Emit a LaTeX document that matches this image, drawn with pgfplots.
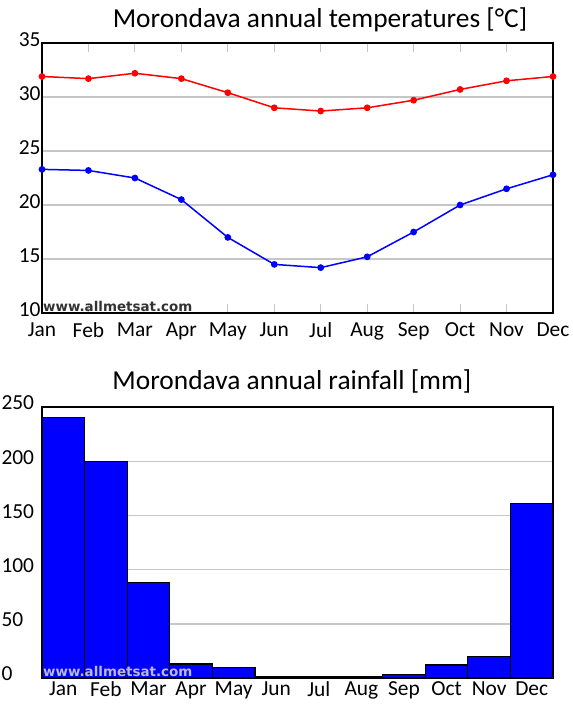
\documentclass[border=0pt]{standalone}
\usepackage{fontspec}
\setmainfont{Carlito}
\newfontfamily\wmfont{DejaVu Sans}
\usepackage{pgfplots}
\pgfplotsset{compat=1.18}

\pgfplotsset{chartbase/.style={
  scale only axis, width=511bp,
  axis line style={black, line width=1.6bp},
  ymajorgrids, grid style={gray!45, line width=1.4bp},
  tick label style={font=\fontsize{21.5}{21.5}\selectfont},
  /pgf/number format/assume math mode=true,
  xtick={1,...,12},
  xticklabels={Jan,Feb,Mar,Apr,May,Jun,Jul,Aug,Sep,Oct,Nov,Dec},
  ytick style={draw=none},
  clip=false}}

\begin{document}
\begin{tikzpicture}
\useasboundingbox (0bp,0bp) rectangle (573bp,-706bp);

% temperatures
\begin{axis}[chartbase, at={(42bp,-313bp)}, anchor=south west, height=270bp,
  xmin=1, xmax=12, ymin=10, ymax=35, ytick={10,15,...,35},
  tick align=inside, major tick length=9bp,
  xtick style={gray!45, line width=1bp},
  xticklabel style={yshift=-6bp},
  yticklabel style={yshift=3bp, xshift=2bp}]
\addplot[red, line width=1.5bp, mark=*, mark size=2.6bp] coordinates
  {(1,31.9) (2,31.7) (3,32.2) (4,31.7) (5,30.4) (6,29.0)
   (7,28.7) (8,29.0) (9,29.7) (10,30.7) (11,31.5) (12,31.9)};
\addplot[blue, line width=1.5bp, mark=*, mark size=2.6bp] coordinates
  {(1,23.3) (2,23.2) (3,22.5) (4,20.5) (5,17.0) (6,14.5)
   (7,14.2) (8,15.2) (9,17.5) (10,20.0) (11,21.5) (12,22.8)};
\node[anchor=south west, inner sep=1bp, text=black!80,
  font=\wmfont\bfseries\fontsize{13.5}{13.5}\selectfont]
  at (rel axis cs:0,0) {www.allmetsat.com};
\end{axis}
\node[font=\fontsize{27.5}{27.5}\selectfont] at (320bp,-20bp)
  {Morondava annual temperatures [°C]};

% rainfall
\begin{axis}[chartbase, at={(42bp,-678bp)}, anchor=south west, height=271bp,
  xmin=0.5, xmax=12.5, ymin=0, ymax=250, ytick={0,50,...,250},
  xtick style={draw=none},
  yticklabel style={anchor=west, xshift=-44bp, yshift=4bp}]
\addplot[ybar, bar width=1, fill=blue, draw=black, line width=1.2bp]
  coordinates
  {(1,240) (2,200) (3,88) (4,13) (5,10) (6,1)
   (7,1) (8,1) (9,3) (10,12) (11,20) (12,161)};
\node[anchor=south west, inner sep=1bp, text=blue!20!gray!45,
  font=\wmfont\bfseries\fontsize{13.5}{13.5}\selectfont]
  at (rel axis cs:0,0) {www.allmetsat.com};
\end{axis}
\node[font=\fontsize{27.5}{27.5}\selectfont] at (292bp,-381bp)
  {Morondava annual rainfall [mm]};
\end{tikzpicture}
\end{document}
